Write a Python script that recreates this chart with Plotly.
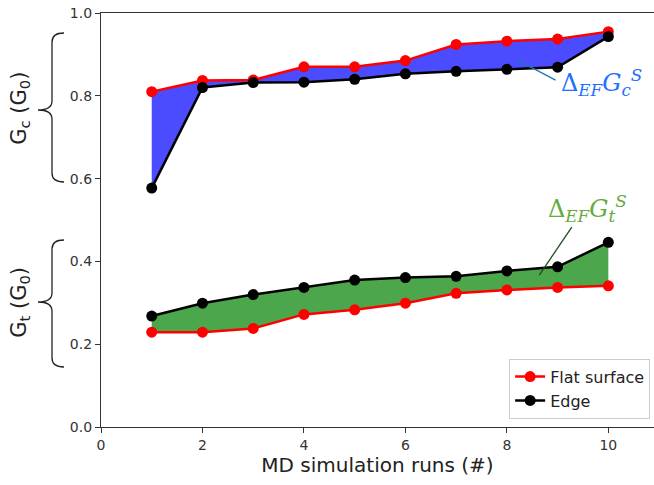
import plotly.graph_objects as go

runs = [1, 2, 3, 4, 5, 6, 7, 8, 9, 10]
gc_flat = [0.810, 0.837, 0.838, 0.870, 0.870, 0.885, 0.924, 0.932, 0.937, 0.955]
gc_edge = [0.577, 0.820, 0.832, 0.833, 0.840, 0.853, 0.859, 0.864, 0.869, 0.943]
gt_flat = [0.229, 0.229, 0.238, 0.272, 0.283, 0.299, 0.323, 0.331, 0.337, 0.341]
gt_edge = [0.268, 0.299, 0.320, 0.337, 0.355, 0.361, 0.364, 0.377, 0.387, 0.446]
x_ticks = [0, 2, 4, 6, 8, 10]
y_ticks = [0.0, 0.2, 0.4, 0.6, 0.8, 1.0]

RED = "#ff0000"
BLACK = "#000000"
BLUE_FILL = "rgb(75,75,255)"
GREEN_FILL = "rgb(76,166,76)"

fig = go.Figure()

# filled regions
fig.add_trace(go.Scatter(x=runs + runs[::-1], y=gc_flat + gc_edge[::-1], fill="toself",
                         fillcolor=BLUE_FILL, mode="none", showlegend=False, hoverinfo="skip"))
fig.add_trace(go.Scatter(x=runs + runs[::-1], y=gt_edge + gt_flat[::-1], fill="toself",
                         fillcolor=GREEN_FILL, mode="none", showlegend=False, hoverinfo="skip"))

line_kw = dict(mode="lines+markers")
fig.add_trace(go.Scatter(x=runs, y=gc_flat, line=dict(color=RED, width=2.5), marker=dict(color=RED, size=11),
                         showlegend=False, legendgroup="flat", **line_kw))
fig.add_trace(go.Scatter(x=runs, y=gt_flat, line=dict(color=RED, width=2.5), marker=dict(color=RED, size=11),
                         name="Flat surface", legendgroup="flat", **line_kw))
fig.add_trace(go.Scatter(x=runs, y=gc_edge, line=dict(color=BLACK, width=2.5), marker=dict(color=BLACK, size=11),
                         showlegend=False, legendgroup="edge", **line_kw))
fig.add_trace(go.Scatter(x=runs, y=gt_edge, line=dict(color=BLACK, width=2.5), marker=dict(color=BLACK, size=11),
                         name="Edge", legendgroup="edge", **line_kw))

font_family = "DejaVu Sans"

fig.update_layout(
    width=654, height=485,
    margin=dict(l=101, r=0, t=13, b=58),
    plot_bgcolor="white", paper_bgcolor="white",
    font=dict(family=font_family, color="#222"),
    xaxis=dict(range=[0, 10.9], tickvals=x_ticks, ticks="outside", ticklen=5, tickcolor="#333",
               showline=True, linecolor="#333", linewidth=1.2, mirror=True, showgrid=False, zeroline=False,
               tickfont=dict(size=14, color="#333"),
               title=dict(text="MD simulation runs (#)", font=dict(size=20, color="#222"), standoff=6)),
    yaxis=dict(range=[0, 1.0], tickvals=y_ticks, tickformat=".1f", ticks="outside", ticklen=5, tickcolor="#333",
               showline=True, linecolor="#333", linewidth=1.2, showgrid=False, zeroline=False,
               tickfont=dict(size=14, color="#333")),
    legend=dict(x=0.993, y=0.02, xanchor="right", yanchor="bottom", bgcolor="white",
                bordercolor="#cccccc", borderwidth=1, font=dict(size=16, color="#222"),
                tracegroupgap=0),
    showlegend=True,
)

# y-axis group labels
fig.add_annotation(text="G<sub>c</sub> (G<sub>0</sub>)", xref="paper", yref="paper",
                   x=-0.147, y=(427 - 108) / 414, xanchor="center", yanchor="middle",
                   textangle=-90, showarrow=False, font=dict(size=21, color="#222"))
fig.add_annotation(text="G<sub>t</sub> (G<sub>0</sub>)", xref="paper", yref="paper",
                   x=-0.147, y=(427 - 302) / 414, xanchor="center", yanchor="middle",
                   textangle=-90, showarrow=False, font=dict(size=21, color="#222"))

# curly braces (pixel-positioned via paper coords)
W = 654 - 101
H = 414
def px(x):
    return (x - 101) / W
def py(y):
    return (427 - y) / H

def brace(top, bottom, tip, xv=52, xt=38, xe=64):
    r = 9
    def P(x, y):
        return f"{px(x):.5f},{py(y):.5f}"
    path = (f"M {P(xe, top)} Q {P(xv, top)} {P(xv, top + r)} "
            f"L {P(xv, tip - r)} Q {P(xv, tip)} {P(xt, tip)} "
            f"Q {P(xv, tip)} {P(xv, tip + r)} "
            f"L {P(xv, bottom - r)} Q {P(xv, bottom)} {P(xe, bottom)}")
    return path

for (t, b, tip) in [(33, 182, 110), (240, 367, 302)]:
    fig.add_shape(type="path", path=brace(t, b, tip), xref="paper", yref="paper",
                  line=dict(color="#222", width=1.3))

# Delta annotations
fig.add_shape(type="line", x0=8.21, y0=0.886, x1=8.96, y1=0.838, xref="x", yref="y",
              line=dict(color="#1f77b4", width=1.3))
fig.add_annotation(text="Δ<sub><i>EF</i></sub><i>G</i><sub><i>c</i></sub><sup><i>S</i></sup>",
                   x=9.03, y=0.832, xref="x", yref="y", xanchor="left", yanchor="middle",
                   showarrow=False, font=dict(size=24, color="rgb(30,110,255)", family="DejaVu Serif"))

fig.add_shape(type="line", x0=9.28, y0=0.483, x1=8.64, y1=0.367, xref="x", yref="y",
              line=dict(color="#1e4d1e", width=1.3))
fig.add_annotation(text="Δ<sub><i>EF</i></sub><i>G</i><sub><i>t</i></sub><sup><i>S</i></sup>",
                   x=8.78, y=0.527, xref="x", yref="y", xanchor="left", yanchor="middle",
                   showarrow=False, font=dict(size=24, color="rgb(100,170,60)", family="DejaVu Serif"))

fig.write_html("out.html")
